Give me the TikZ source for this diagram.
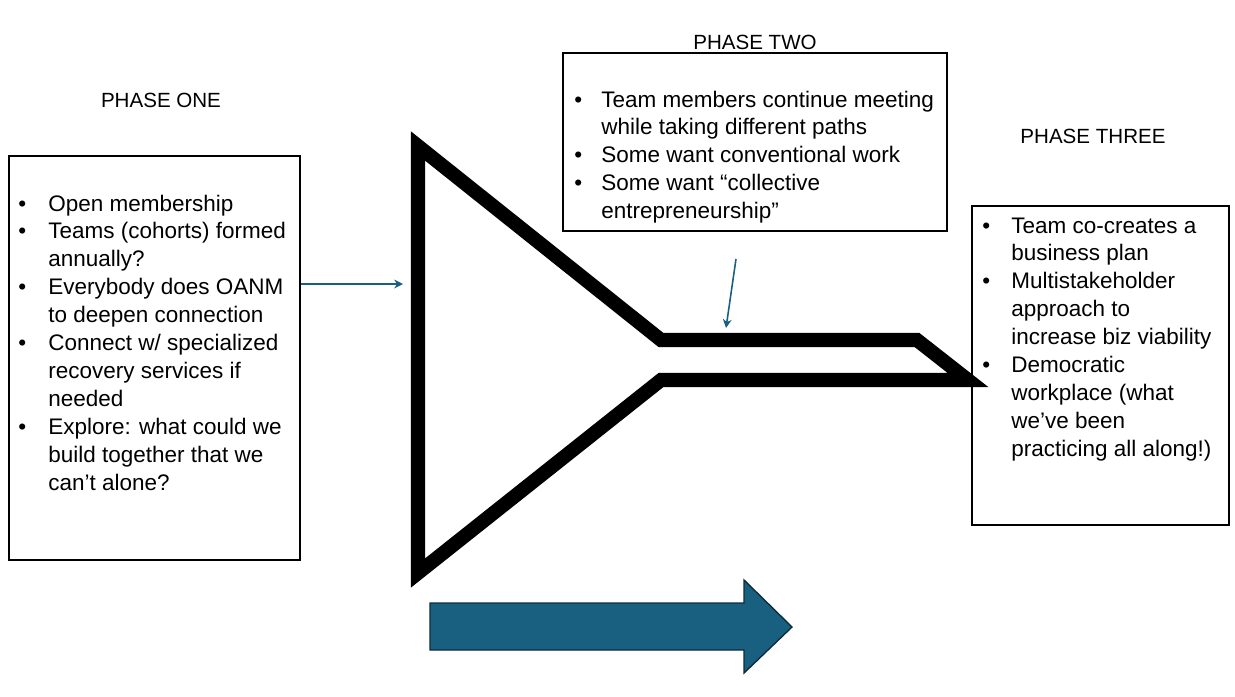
\documentclass[tikz,border=0pt]{standalone}
\usepackage{fontspec}
\setmainfont{Liberation Sans}
\usetikzlibrary{arrows.meta}
\definecolor{flowblue}{RGB}{24,95,128}
\definecolor{flowdark}{RGB}{12,45,62}
\newcommand{\blist}[2]{\fontsize{12.8}{15.9}\selectfont\begin{tabular}[t]{@{}p{#1}@{}l@{}}#2\end{tabular}}

\begin{document}
\begin{tikzpicture}[x=0.02cm, y=-0.02cm, font=\fontsize{11.7}{14}\selectfont,
  phasebox/.style={draw, line width=0.8pt, inner sep=0pt},
  listtext/.style={anchor=base west, inner sep=0pt},
  conn/.style={draw=flowblue, line width=0.9pt, -{Stealth[length=5pt, width=5pt]}}]
\useasboundingbox (0,0) rectangle (1235,697);

\node (oneTitle) at (161,100) {PHASE ONE};
\node (twoTitle) at (755,42) {PHASE TWO};
\node (threeTitle) at (1093,136) {PHASE THREE};

\node[phasebox, minimum width=5.82cm, minimum height=8.08cm] (one) at (154.5,358) {};
\node[phasebox, minimum width=7.68cm, minimum height=3.56cm] (two) at (755,142) {};
\node[phasebox, minimum width=5.14cm, minimum height=6.38cm] (three) at (1100.5,365.5) {};

\node[listtext] (oneText) at (18,211) {\blist{0.6cm}{
  \textbullet & Open membership\\
  \textbullet & Teams (cohorts) formed\\
  & annually?\\
  \textbullet & Everybody does OANM\\
  & to deepen connection\\
  \textbullet & Connect w/ specialized\\
  & recovery services if\\
  & needed\\
  \textbullet & Explore: what could we\\
  & build together that we\\
  & can’t alone?}};
\node[listtext] (twoText) at (574,107) {\blist{0.54cm}{
  \textbullet & Team members continue meeting\\
  & while taking different paths\\
  \textbullet & Some want conventional work\\
  \textbullet & Some want “collective\\
  & entrepreneurship”}};
\node[listtext] (threeText) at (982,233) {\blist{0.58cm}{
  \textbullet & Team co-creates a\\
  & business plan\\
  \textbullet & Multistakeholder\\
  & approach to\\
  & increase biz viability\\
  \textbullet & Democratic\\
  & workplace (what\\
  & we’ve been\\
  & practicing all along!)}};

% funnel
\draw[line width=8pt, miter limit=20] (418,146) -- (661,340) -- (917,340) -- (968,380)
  -- (661,380) -- (418,573) -- cycle;

\coordinate (funnelIn) at (403,284);
\coordinate (tubeTop) at (726,328);
\coordinate (noteTail) at (736,259);
\draw[conn] (one.east |- funnelIn) -- (funnelIn);
\draw[conn] (noteTail) -- (tubeTop);

% big arrow
\draw[fill=flowblue, draw=flowdark, line width=0.8pt] (430,603) -- (744,603) -- (744,580)
  -- (792,627) -- (744,673) -- (744,650) -- (430,650) -- cycle;
\end{tikzpicture}
\end{document}
